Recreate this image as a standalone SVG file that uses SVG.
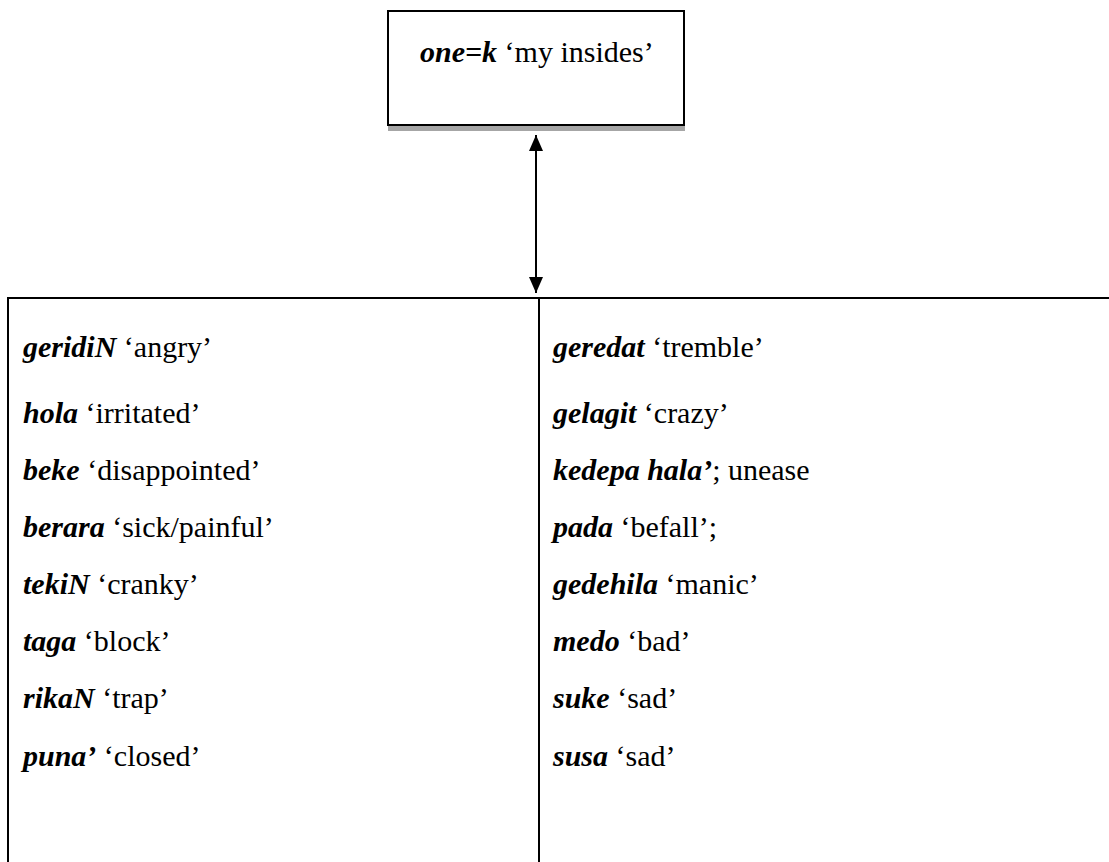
<svg xmlns="http://www.w3.org/2000/svg" width="1109" height="862" viewBox="0 0 1109 862">
<defs>
<style>
text{font-family:"Liberation Serif","Times New Roman",serif;font-size:30px;fill:#000}
.b{font-weight:bold;font-style:italic}
.ln{stroke:#000;stroke-width:2;fill:none}
</style>
<marker id="ah" viewBox="0 0 16 14" refX="16" refY="7" markerWidth="16" markerHeight="14" markerUnits="userSpaceOnUse" orient="auto-start-reverse">
<path d="M0,0 L16,7 L0,14 Z" fill="#000"/>
</marker>
</defs>
<rect width="1109" height="862" fill="#fff"/>
<g id="top-node">
<rect x="388" y="126" width="297" height="5" fill="#a6a6a6"/>
<rect x="388" y="11" width="296" height="114" fill="#fff" stroke="#000" stroke-width="2"/>
<text x="420" y="62"><tspan class="b">one=k</tspan> ‘my insides’</text>
</g>
<g id="connectors">
<line x1="536" y1="135" x2="536" y2="293" stroke="#000" stroke-width="2" marker-start="url(#ah)" marker-end="url(#ah)"/>
</g>
<g id="table">
<line class="ln" x1="8" y1="298" x2="1109" y2="298"/>
<line class="ln" x1="8" y1="297" x2="8" y2="862"/>
<line class="ln" x1="539" y1="298" x2="539" y2="862"/>
</g>
<g id="left-column">
<text x="23" y="357"><tspan class="b">geridiN</tspan> ‘angry’</text>
<text x="23" y="423"><tspan class="b">hola</tspan> ‘irritated’</text>
<text x="23" y="480"><tspan class="b">beke</tspan> ‘disappointed’</text>
<text x="23" y="537"><tspan class="b">berara</tspan> ‘sick/painful’</text>
<text x="23" y="594"><tspan class="b">tekiN</tspan> ‘cranky’</text>
<text x="23" y="651"><tspan class="b">taga</tspan> ‘block’</text>
<text x="23" y="708"><tspan class="b">rikaN</tspan> ‘trap’</text>
<text x="23" y="766"><tspan class="b">puna’</tspan> ‘closed’</text>
</g>
<g id="right-column">
<text x="553" y="357"><tspan class="b">geredat</tspan> ‘tremble’</text>
<text x="553" y="423"><tspan class="b">gelagit</tspan> ‘crazy’</text>
<text x="553" y="480"><tspan class="b">kedepa hala’</tspan>; unease</text>
<text x="553" y="537"><tspan class="b">pada</tspan> ‘befall’;</text>
<text x="553" y="594"><tspan class="b">gedehila</tspan> ‘manic’</text>
<text x="553" y="651"><tspan class="b">medo</tspan> ‘bad’</text>
<text x="553" y="708"><tspan class="b">suke</tspan> ‘sad’</text>
<text x="553" y="766"><tspan class="b">susa</tspan> ‘sad’</text>
</g>
</svg>
